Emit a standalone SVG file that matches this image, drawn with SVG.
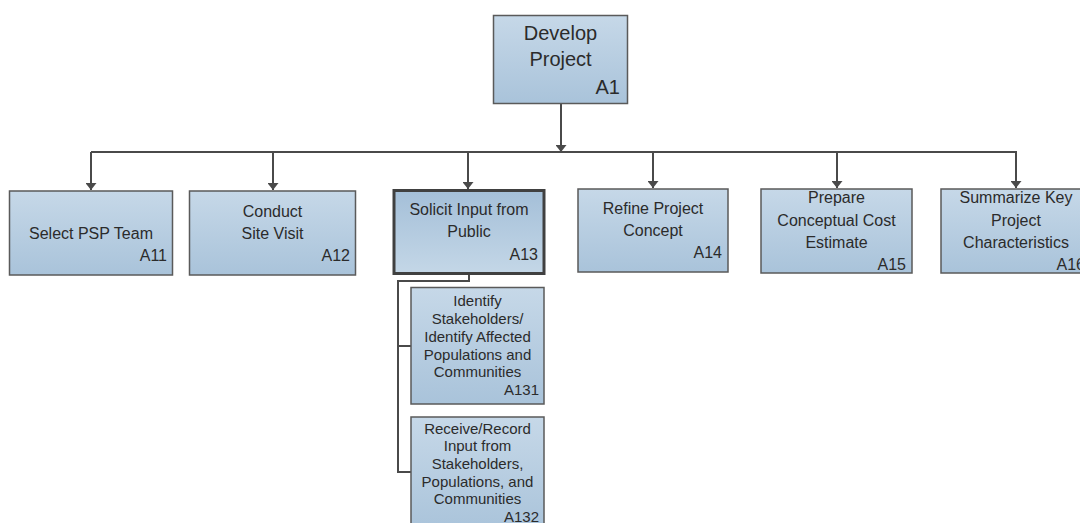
<svg xmlns="http://www.w3.org/2000/svg" width="1080" height="523" viewBox="0 0 1080 523">
  <defs>
    <linearGradient id="boxFill" x1="0" y1="0" x2="0" y2="1">
      <stop offset="0" stop-color="#c6d8e8"/>
      <stop offset="1" stop-color="#a9c3da"/>
    </linearGradient>
    <linearGradient id="activeFill" x1="0" y1="0" x2="0" y2="1">
      <stop offset="0" stop-color="#a4bfd8"/>
      <stop offset="1" stop-color="#c4d7e7"/>
    </linearGradient>
    <!-- arrowhead drawn along +x so it follows the line direction -->
    <marker id="arrow" viewBox="0 0 7 11" refX="7" refY="5.5" markerWidth="7" markerHeight="11" markerUnits="userSpaceOnUse" orient="auto">
      <path d="M0,0 L7,5.5 L0,11 Z" fill="#4a4a4a"/>
    </marker>
  </defs>
  <style>
    .box { fill: url(#boxFill); stroke: #5a5a5a; stroke-width: 1.5; }
    .active { fill: url(#activeFill); stroke: #404040; stroke-width: 3; }
    .lbl { font-family: "Liberation Sans", Arial, sans-serif; font-size: 16px; fill: #2b2b2b; text-anchor: middle; }
    .big { font-size: 20px; }
    .small { font-size: 15px; }
    .code { text-anchor: end; }
    .wire { fill: none; stroke: #4a4a4a; stroke-width: 2; }
  </style>

  <rect width="1080" height="523" fill="#ffffff"/>

  <!-- connectors -->
  <g id="connectors">
    <line class="wire" x1="561" y1="103" x2="561" y2="152" marker-end="url(#arrow)"/>
    <line class="wire" x1="91" y1="152" x2="1017" y2="152"/>
    <line class="wire" x1="91" y1="152" x2="91" y2="190" marker-end="url(#arrow)"/>
    <line class="wire" x1="273" y1="152" x2="273" y2="190" marker-end="url(#arrow)"/>
    <line class="wire" x1="468" y1="152" x2="468" y2="189" marker-end="url(#arrow)"/>
    <line class="wire" x1="653" y1="152" x2="653" y2="188" marker-end="url(#arrow)"/>
    <line class="wire" x1="837" y1="152" x2="837" y2="188" marker-end="url(#arrow)"/>
    <line class="wire" x1="1016" y1="152" x2="1016" y2="188" marker-end="url(#arrow)"/>
    <polyline class="wire" points="469,274 469,281 398,281 398,472 411,472"/>
    <line class="wire" x1="398" y1="346" x2="411" y2="346"/>
  </g>

  <!-- A1 -->
  <g id="A1">
    <rect class="box" x="493.5" y="15.5" width="134" height="88"/>
    <text class="lbl big" x="560.5" y="40">Develop</text>
    <text class="lbl big" x="560.5" y="66">Project</text>
    <text class="lbl big code" x="620" y="94">A1</text>
  </g>

  <!-- A11 -->
  <g id="A11">
    <rect class="box" x="9.5" y="191" width="163" height="84"/>
    <text class="lbl" x="91" y="239">Select PSP Team</text>
    <text class="lbl code" x="167" y="261">A11</text>
  </g>

  <!-- A12 -->
  <g id="A12">
    <rect class="box" x="189.5" y="191" width="166" height="84"/>
    <text class="lbl" x="272.5" y="217">Conduct</text>
    <text class="lbl" x="272.5" y="239">Site Visit</text>
    <text class="lbl code" x="350" y="261">A12</text>
  </g>

  <!-- A13 -->
  <g id="A13">
    <rect class="active" x="394" y="190.5" width="150" height="83"/>
    <text class="lbl" x="469" y="215">Solicit Input from</text>
    <text class="lbl" x="469" y="237">Public</text>
    <text class="lbl code" x="538" y="260">A13</text>
  </g>

  <!-- A14 -->
  <g id="A14">
    <rect class="box" x="578" y="189" width="150" height="83"/>
    <text class="lbl" x="653" y="214">Refine Project</text>
    <text class="lbl" x="653" y="236">Concept</text>
    <text class="lbl code" x="722" y="258">A14</text>
  </g>

  <!-- A15 -->
  <g id="A15">
    <rect class="box" x="761" y="189" width="151" height="84"/>
    <text class="lbl" x="836.5" y="203">Prepare</text>
    <text class="lbl" x="836.5" y="226">Conceptual Cost</text>
    <text class="lbl" x="836.5" y="247.5">Estimate</text>
    <text class="lbl code" x="906" y="269.5">A15</text>
  </g>

  <!-- A16 (runs past the right edge) -->
  <g id="A16">
    <rect class="box" x="941" y="189" width="151" height="84"/>
    <text class="lbl" x="1016" y="203">Summarize Key</text>
    <text class="lbl" x="1016" y="226">Project</text>
    <text class="lbl" x="1016" y="247.5">Characteristics</text>
    <text class="lbl code" x="1085" y="269.5">A16</text>
  </g>

  <!-- A131 -->
  <g id="A131">
    <rect class="box" x="411" y="287.5" width="133" height="116.5"/>
    <text class="lbl small" x="477.5" y="306">Identify</text>
    <text class="lbl small" x="477.5" y="324">Stakeholders/</text>
    <text class="lbl small" x="477.5" y="341.5">Identify Affected</text>
    <text class="lbl small" x="477.5" y="359.5">Populations and</text>
    <text class="lbl small" x="477.5" y="377">Communities</text>
    <text class="lbl small code" x="539" y="395">A131</text>
  </g>

  <!-- A132 -->
  <g id="A132">
    <rect class="box" x="411" y="417" width="133" height="116"/>
    <text class="lbl small" x="477.5" y="433.5">Receive/Record</text>
    <text class="lbl small" x="477.5" y="451">Input from</text>
    <text class="lbl small" x="477.5" y="468.5">Stakeholders,</text>
    <text class="lbl small" x="477.5" y="486.5">Populations, and</text>
    <text class="lbl small" x="477.5" y="504">Communities</text>
    <text class="lbl small code" x="539" y="522">A132</text>
  </g>
</svg>
